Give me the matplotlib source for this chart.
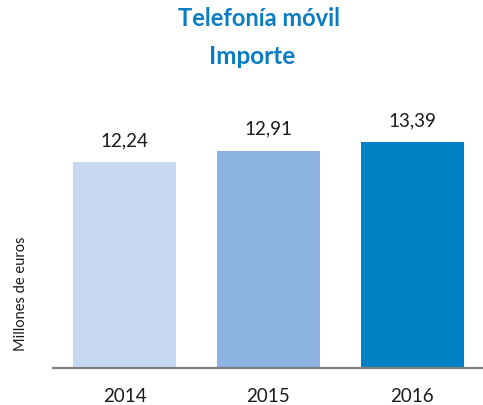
import matplotlib.pyplot as plt

plt.rcParams["font.family"] = ["Lato", "DejaVu Sans"]

years = ["2014", "2015", "2016"]
importe = [12.24, 12.91, 13.39]
labels = ["12,24", "12,91", "13,39"]
colors = ["#c6d9f0", "#8db3e2", "#0081c6"]

fig = plt.figure(figsize=(4.83, 4.06), dpi=100)
ax = fig.add_axes([0.1097, 0.0911, 0.890, 0.687])

x = range(len(years))
bars = ax.bar(x, importe, width=0.715, color=colors)

for bar, lab in zip(bars, labels):
    ax.annotate(
        lab,
        (bar.get_x() + bar.get_width() / 2, bar.get_height()),
        xytext=(0, 10),
        textcoords="offset points",
        ha="center",
        va="bottom",
        fontsize=13.5,
        color="#1a1a1a",
    )

ax.set_xlim(-0.497, 2.49)
ax.set_ylim(0, 16.56)
ax.set_xticks(list(x))
ax.set_xticklabels(years, fontsize=13.5, color="#1a1a1a")
ax.tick_params(axis="x", length=0, pad=14)
ax.set_yticks([])

for side in ["top", "right", "left"]:
    ax.spines[side].set_visible(False)
ax.spines["bottom"].set_color("#808080")
ax.spines["bottom"].set_linewidth(1.6)

ax.set_ylabel("Millones de euros", fontsize=10.5, color="#1a1a1a")
ax.yaxis.set_label_coords(-0.058, 0.27)

fig.text(0.536, 0.955, "Telefonía móvil", ha="center", va="center",
         fontsize=17, fontweight="bold", color="#0a7cc1")
fig.text(0.522, 0.86, "Importe", ha="center", va="center",
         fontsize=17.5, fontweight="bold", color="#0a7cc1")

fig.savefig("out.png", dpi=100)
